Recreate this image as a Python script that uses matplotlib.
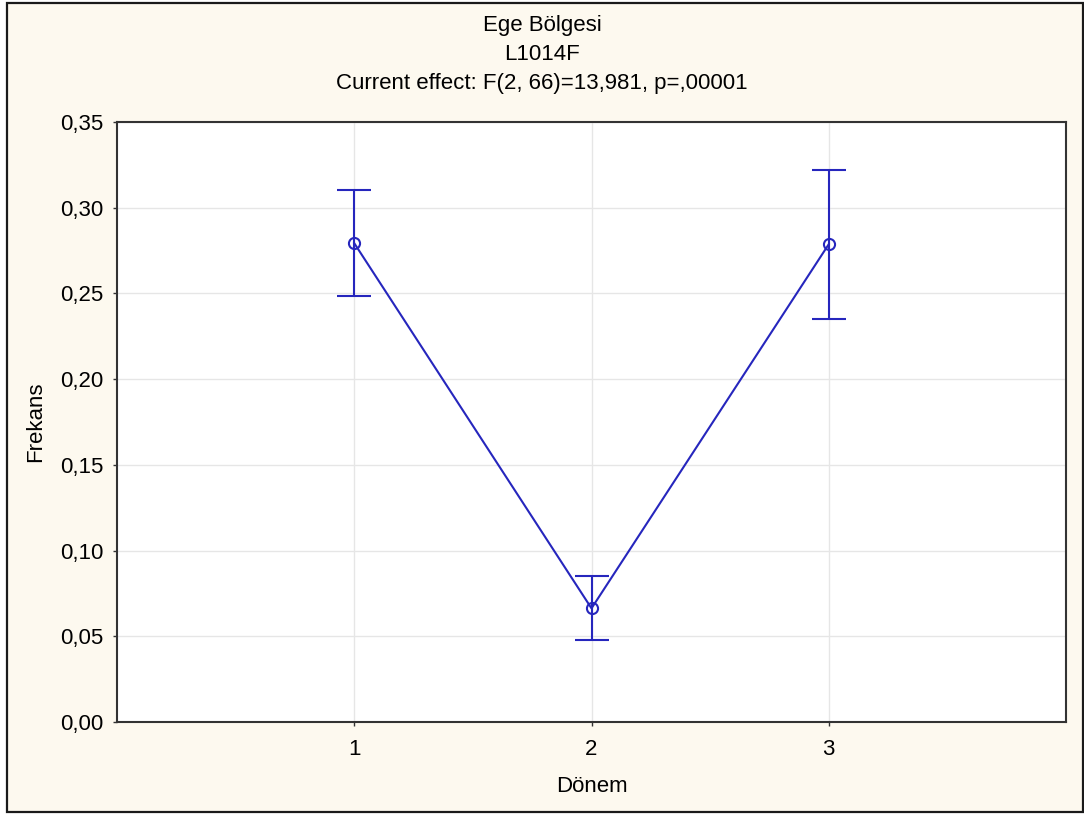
import matplotlib.pyplot as plt
from matplotlib.patches import Rectangle
from matplotlib.ticker import FuncFormatter

# Ortalama frekanslar ve hata çubuklarının alt/üst sınırları
donem = [1, 2, 3]
ortalama = [0.2793, 0.0663, 0.2787]
ust = [0.3104, 0.0853, 0.3220]
alt = [0.2485, 0.0480, 0.2349]

baslik = ["Ege Bölgesi", "L1014F", "Current effect: F(2, 66)=13,981, p=,00001"]

plt.rcParams['font.family'] = ['Liberation Sans', 'DejaVu Sans']
fs = 16

W, H = 1084, 814
fig = plt.figure(figsize=(W / 100, H / 100), dpi=100, facecolor='white')

# krem arka plan ve dış çerçeve
fig.patches.append(Rectangle((7 / W, 1 - 812 / H), (1083 - 7) / W, (812 - 3) / H,
                             transform=fig.transFigure, facecolor='#fdf9ef',
                             edgecolor='#1a1a1a', linewidth=1.6, zorder=-1))

ax = fig.add_axes([117 / W, 1 - 722 / H, (1066 - 117) / W, (722 - 122) / H])
ax.set_facecolor('white')

yerr = [[o - a for o, a in zip(ortalama, alt)],
        [u - o for o, u in zip(ortalama, ust)]]
renk = '#2626bd'
ax.errorbar(donem, ortalama, yerr=yerr, fmt='-o', color=renk, ecolor=renk,
            linewidth=1.5, elinewidth=1.5, capsize=12, capthick=1.5,
            markersize=8, markerfacecolor='none', markeredgewidth=1.5, zorder=3)

ax.set_xlim(0, 4)
ax.set_ylim(0, 0.35)
ax.set_xticks(donem)
ax.set_yticks([i * 0.05 for i in range(8)])
ax.yaxis.set_major_formatter(FuncFormatter(lambda v, p: f"{v:.2f}".replace('.', ',')))
ax.grid(True, color='#e6e6e6', linewidth=1)
ax.set_axisbelow(True)
for s in ax.spines.values():
    s.set_color('#333333')
    s.set_linewidth(1.5)
ax.tick_params(length=3, width=1, color='#333333', labelsize=fs, pad=9)
ax.tick_params(axis='y', pad=7)

ax.set_xlabel("Dönem", fontsize=fs, labelpad=12)
ax.set_ylabel("Frekans", fontsize=fs, labelpad=10)

for i, t in enumerate(baslik):
    fig.text(0.5, 1 - (26 + 29 * i) / H, t, ha='center', va='center', fontsize=fs)

plt.savefig('out.png', dpi=100)
plt.close()
